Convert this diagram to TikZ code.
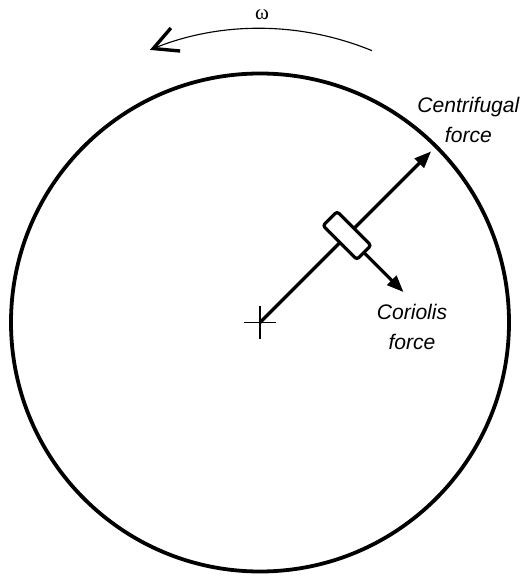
\documentclass[tikz,border=0pt]{standalone}
\usepackage{fontspec}
\setmainfont{Liberation Sans}
\newfontfamily\greekfont{Liberation Serif}
\usetikzlibrary{arrows.meta}

\begin{document}
\begin{tikzpicture}[x=1cm,y=1cm,force/.style={draw=black,line width=2.3pt,-{Triangle[length=0.42cm,width=0.32cm]}},lbl/.style={font=\fontsize{15}{21}\selectfont\itshape,align=center},slider/.style={draw=black,fill=white,line width=2.3pt,rounded corners=2pt,minimum width=0.5cm,minimum height=1.2cm,inner sep=0pt,rotate=45},spin/.style={draw=black,line width=0.8pt,-{Straight Barb[length=0.6cm,width=0.62cm,line width=2.4pt]}}]
\useasboundingbox (-6.5,-6.3375) rectangle (6.725,8.0625);
\draw[line width=2.7pt] (0,0) circle (6.225);
\coordinate (hub) at (0,0);
\coordinate (rim) at (45:6.05);
\coordinate (mass) at (45:3.075);
\path (mass) ++(-45:2) coordinate (cortip);
\draw[line width=1.4pt] ([xshift=-0.4cm]hub) -- ([xshift=0.4cm]hub);
\draw[line width=1.4pt] ([yshift=-0.42cm]hub) -- ([yshift=0.42cm]hub);
\draw[force] (hub) -- (rim);
\draw[force] (mass) -- (cortip);
\node[slider] (block) at (mass) {};
\draw[spin] (67.6:7.35) arc[start angle=67.6,end angle=112,radius=7.35cm];
\node[font=\greekfont\fontsize{15}{17}\selectfont] (omega) at (0.05,7.69) {ω};
\node[lbl] (centrifugal) at (5.21,5.06) {Centrifugal\\force};
\node[lbl] (coriolis) at (3.8,-0.11) {Coriolis\\force};
\end{tikzpicture}
\end{document}
